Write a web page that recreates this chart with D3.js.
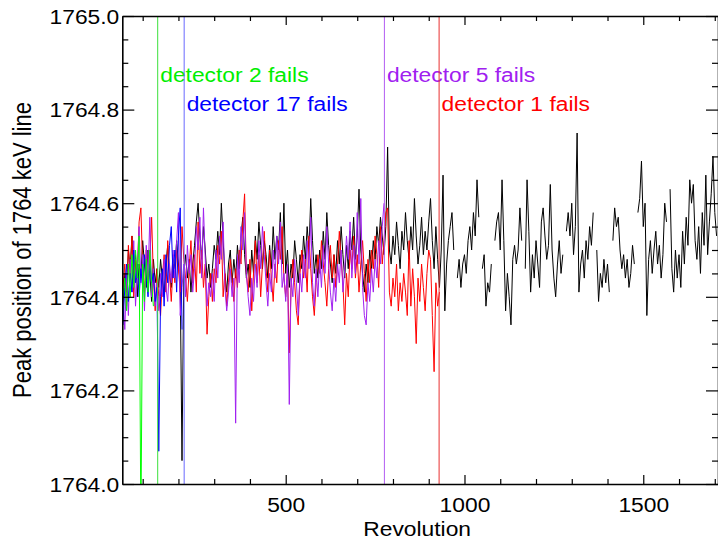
<!DOCTYPE html>
<html>
<head>
<meta charset="utf-8">
<script src="https://cdn.jsdelivr.net/npm/d3@7"></script>
<style>
  body { margin: 0; background: #fff; }
  svg { display: block; font-family: "Liberation Sans", Arial, Helvetica, sans-serif; }
</style>
</head>
<body>
<script>
// every series is sampled each 5 revolutions, starting at revolution 45
var revStart = 45;
var revStep = 5;

var blackVals = [
  1764.38, 1764.45, 1764.41, 1764.50, 1764.46, 1764.53, 1764.43, 1764.49, 1764.40, 1764.47,
  1764.44, 1764.52, 1764.47, 1764.42, 1764.50, 1764.45, 1764.39, 1764.48, 1764.43, 1764.46,
  1764.42, 1764.48, 1764.44, 1764.40, 1764.47, 1764.51, 1764.45, 1764.42, 1764.49, 1764.46,
  1764.52, 1764.47, 1764.43, 1764.05, 1764.45, 1764.49, 1764.44, 1764.48, 1764.41, 1764.47,
  1764.51, 1764.56, 1764.60, 1764.53, 1764.48, 1764.55, 1764.50, 1764.44, 1764.47, 1764.42,
  1764.46, 1764.51, 1764.48, 1764.54, 1764.49, 1764.60, 1764.52, 1764.45, 1764.41, 1764.47,
  1764.50, 1764.43, 1764.48, 1764.44, 1764.51, 1764.46, 1764.53, 1764.57, 1764.49, 1764.44,
  1764.47, 1764.42, 1764.50, 1764.45, 1764.53, 1764.48, 1764.56, 1764.51, 1764.46, 1764.52,
  1764.49, 1764.44, 1764.51, 1764.46, 1764.55, 1764.48, 1764.53, 1764.50, 1764.58, 1764.47,
  1764.60, 1764.45, 1764.50, 1764.42, 1764.47, 1764.44, 1764.52, 1764.48, 1764.43, 1764.49,
  1764.46, 1764.53, 1764.48, 1764.55, 1764.50, 1764.61, 1764.52, 1764.45, 1764.49, 1764.44,
  1764.50, 1764.46, 1764.54, 1764.48, 1764.58, 1764.51, 1764.47, 1764.43, 1764.49, 1764.45,
  1764.52, 1764.47, 1764.55, 1764.49, 1764.44, 1764.51, 1764.46, 1764.54, 1764.50, 1764.57,
  1764.48, 1764.53, 1764.63, 1764.50, 1764.45, 1764.41, 1764.47, 1764.43, 1764.50, 1764.46,
  1764.52, 1764.48, 1764.55, 1764.51, 1764.57, 1764.53, 1764.49, 1764.55, 1764.72, 1764.50,
  1764.47, 1764.53, 1764.49, 1764.56, 1764.51, 1764.46, 1764.54, 1764.50, 1764.58, 1764.52,
  1764.48, 1764.55, 1764.50, 1764.61, 1764.53, 1764.47, 1764.51, 1764.57, 1764.49, 1764.54,
  1764.50, 1764.56, 1764.61, 1764.52, 1764.46, 1764.55, 1764.48, 1764.42, 1764.50, 1764.66,
  1764.37, 1764.47, 1764.52, 1764.55, 1764.58, 1764.50, null,    1764.44, 1764.48, 1764.42,
  1764.47, 1764.49, 1764.45, 1764.52, 1764.55, 1764.50, 1764.58, 1764.53, 1764.65, 1764.57,
  null,    1764.46, 1764.49, 1764.38, 1764.43, 1764.41, 1764.47, null,    1764.52, 1764.56,
  1764.58, 1764.50, 1764.65, 1764.52, 1764.37, 1764.45, 1764.40, 1764.34, 1764.48, 1764.51,
  1764.47, 1764.50, 1764.59, 1764.52, null,    1764.46, 1764.65, 1764.54, 1764.41, 1764.49,
  1764.44, 1764.52, 1764.47, 1764.42, 1764.56, 1764.59, 1764.53, 1764.48, 1764.51, 1764.64,
  1764.50, 1764.44, 1764.40, 1764.47, 1764.52, 1764.45, 1764.49, null,    1764.54, 1764.58,
  1764.53, 1764.60, 1764.49, 1764.55, 1764.75, 1764.41, 1764.47, 1764.50, 1764.44, 1764.52,
  1764.48, 1764.55, 1764.51, 1764.58, null,    1764.50, 1764.39, 1764.45, 1764.42, 1764.48,
  1764.43, 1764.47, 1764.41, null,    1764.52, 1764.59, 1764.55, 1764.57, 1764.50, 1764.46,
  1764.49, 1764.44, 1764.48, 1764.42, 1764.45, 1764.51, 1764.47, null,    1764.58, 1764.61,
  1764.69, 1764.55, 1764.60, 1764.36, 1764.48, 1764.52, 1764.45, 1764.50, 1764.54, 1764.47,
  1764.51, 1764.44, 1764.49, 1764.60, 1764.56, null,    1764.63, 1764.46, 1764.41, 1764.50,
  1764.44, 1764.49, 1764.42, 1764.54, 1764.47, 1764.57, 1764.51, 1764.65, 1764.60, 1764.64,
  1764.52, 1764.48, 1764.55, 1764.45, 1764.58, 1764.51, 1764.66, 1764.49, 1764.56, 1764.62,
  1764.70, 1764.58, 1764.53
];

var redVals = [
  1764.42, 1764.47, 1764.38, 1764.51, 1764.44, 1764.53, 1764.40, 1764.48, 1764.45, 1764.56,
  1764.59, 1764.46, 1764.41, 1764.50, 1764.43, 1764.48, 1764.57, 1764.44, 1764.37, 1764.46,
  1764.40, 1764.36, 1764.44, 1764.49, 1764.41, 1764.52, 1764.45, 1764.39, 1764.47, 1764.43,
  1764.50, 1764.46, 1764.41, 1764.55, 1764.48, 1764.44, 1764.39, 1764.46, 1764.52, 1764.43,
  1764.49, 1764.41, 1764.56, 1764.45, 1764.50, 1764.42, 1764.47, 1764.32, 1764.40, 1764.45,
  1764.39, 1764.46, 1764.43, 1764.51, 1764.47, 1764.54, 1764.40, 1764.45, 1764.38, 1764.43,
  1764.48, 1764.44, 1764.39, 1764.46, 1764.42, 1764.50, 1764.47, 1764.56, 1764.62, 1764.45,
  1764.41, 1764.48, 1764.37, 1764.45, 1764.52, 1764.43, 1764.49, 1764.40, 1764.47, 1764.54,
  1764.46, 1764.41, 1764.50, 1764.44, 1764.39, 1764.47, 1764.43, 1764.52, 1764.48, 1764.55,
  1764.44, 1764.40, 1764.46, 1764.28, 1764.42, 1764.48, 1764.43, 1764.37, 1764.34, 1764.45,
  1764.50, 1764.44, 1764.48, 1764.41, 1764.53, 1764.46, 1764.40, 1764.36, 1764.43, 1764.49,
  1764.45, 1764.52, 1764.47, 1764.43, 1764.38, 1764.46, 1764.51, 1764.44, 1764.49, 1764.42,
  1764.47, 1764.54, 1764.48, 1764.43, 1764.34, 1764.45, 1764.40, 1764.50, 1764.46, 1764.53,
  1764.44, 1764.49, 1764.41, 1764.47, 1764.52, 1764.45, 1764.39, 1764.48, 1764.43, 1764.50,
  1764.46, 1764.53, 1764.49, 1764.42, 1764.55, 1764.47, 1764.52, 1764.58, 1764.59, 1764.41,
  1764.38, 1764.44, 1764.40, 1764.47, 1764.37, 1764.43, 1764.39, 1764.45, 1764.41, 1764.36,
  1764.52, 1764.38, 1764.46, 1764.40, 1764.30, 1764.44, 1764.39, 1764.47, 1764.42, 1764.37,
  1764.45, 1764.50, 1764.48, 1764.36, 1764.24, 1764.43, 1764.38, 1764.41
];

var purpleVals = [
  1764.40, 1764.33, 1764.45, 1764.36, 1764.48, 1764.41, 1764.52, 1764.38, 1764.46, 1764.55,
  1764.43, 1764.49, 1764.37, 1764.51, 1764.44, 1764.57, 1764.40, 1764.46, 1764.38, 1764.43,
  1764.37, 1764.45, 1764.40, 1764.48, 1764.42, 1764.39, 1764.47, 1764.43, 1764.50, 1764.44,
  1764.52, 1764.58, 1764.36, 1764.42, 1764.47, 1764.40, 1764.51, 1764.45, 1764.49, 1764.41,
  1764.46, 1764.55, 1764.50, 1764.57, 1764.44, 1764.59, 1764.48, 1764.38, 1764.43, 1764.40,
  1764.45, 1764.39, 1764.50, 1764.44, 1764.53, 1764.48, 1764.56, 1764.42, 1764.37, 1764.41,
  1764.46, 1764.40, 1764.44, 1764.13, 1764.49, 1764.43, 1764.55, 1764.50, 1764.58, 1764.45,
  1764.40, 1764.36, 1764.44, 1764.39, 1764.47, 1764.42, 1764.52, 1764.46, 1764.55, 1764.49,
  1764.43, 1764.38, 1764.45, 1764.41, 1764.50, 1764.44, 1764.53, 1764.47, 1764.56, 1764.42,
  1764.45, 1764.39, 1764.47, 1764.17, 1764.44, 1764.40, 1764.48, 1764.43, 1764.36, 1764.45,
  1764.41, 1764.49, 1764.44, 1764.52, 1764.46, 1764.57, 1764.43, 1764.38, 1764.46, 1764.40,
  1764.48, 1764.42, 1764.51, 1764.45, 1764.55, 1764.47, 1764.41, 1764.37, 1764.44, 1764.39,
  1764.47, 1764.43, 1764.50, 1764.41, 1764.46, 1764.53, 1764.48, 1764.56, 1764.44, 1764.51,
  1764.45, 1764.58, 1764.47, 1764.61, 1764.42, 1764.36, 1764.34, 1764.43, 1764.39, 1764.46,
  1764.41, 1764.48, 1764.44, 1764.52, 1764.47, 1764.55, 1764.60
];

var blueVals = [
  1764.34, 1764.42, 1764.47, 1764.39, 1764.45, 1764.41, 1764.50, 1764.43, 1764.47, 1764.40,
  1764.46, 1764.42, 1764.49, 1764.44, 1764.40, 1764.47, 1764.43, 1764.45, 1764.39, 1764.42,
  1764.07, 1764.40, 1764.46, 1764.38, 1764.49, 1764.43, 1764.51, 1764.55, 1764.44, 1764.50,
  1764.41, 1764.53, 1764.59, 1764.33
];

var greenVals = [
  1764.40, 1764.44, 1764.37, 1764.47, 1764.40, 1764.49, 1764.42, 1764.50, 1764.44, 1764.53,
  1763.90, 1764.47, 1764.39, 1764.48, 1764.41, 1764.50, 1764.43, 1764.38
];

var failDetectors = [2, 17, 5, 1];
var failRevs = [142, 216, 776, 929];

var xMajorTicks = [500, 1000, 1500];
var xMinorTicks = [100, 200, 300, 400, 600, 700, 800, 900, 1100, 1200, 1300, 1400, 1600, 1700];
var yMajorTicks = [1764.0, 1764.2, 1764.4, 1764.6, 1764.8, 1765.0];
var yMinorTicks = [1764.05, 1764.1, 1764.15, 1764.25, 1764.3, 1764.35, 1764.45, 1764.5, 1764.55,
                   1764.65, 1764.7, 1764.75, 1764.85, 1764.9, 1764.95];

var W = 718, H = 540;
// plot box (note: "top" is reserved on window, so use prefixed names)
var pLeft = 122.3, pRight = 718, pTop = 16, pBottom = 484;
var sx = 1.17; // text is a bit wider than plain Helvetica in the original

var svg = d3.select("body").append("svg")
  .attr("width", W)
  .attr("height", H);

var x = d3.scaleLinear().domain([43, 1709]).range([pLeft, pRight]);
var y = d3.scaleLinear().domain([1764.0, 1765.0]).range([pBottom, pTop]);

svg.append("clipPath")
  .attr("id", "plotclip")
  .append("rect")
    .attr("x", pLeft)
    .attr("y", pTop)
    .attr("width", pRight - pLeft)
    .attr("height", pBottom - pTop);

/* data lines */
var series = [
  { vals: blackVals,  color: "#000000" },
  { vals: redVals,    color: "#ff0000" },
  { vals: purpleVals, color: "#a020f0" },
  { vals: blueVals,   color: "#0000ff" },
  { vals: greenVals,  color: "#00ff00" }
];

var line = d3.line()
  .defined(function(d) { return d[1] != null; })
  .x(function(d) { return x(d[0]); })
  .y(function(d) { return y(d[1]); });

var plot = svg.append("g").attr("clip-path", "url(#plotclip)");

series.forEach(function(s) {
  var pts = s.vals.map(function(v, i) { return [revStart + i * revStep, v]; });
  plot.append("path")
    .datum(pts)
    .attr("d", line)
    .attr("fill", "none")
    .attr("stroke", s.color)
    .attr("stroke-width", 1)
    .attr("stroke-linejoin", "round");
});

/* detector failure markers */
var failLineColors = ["#3ce03c", "#6a6aff", "#b25cf2", "#e83030"];
var failTextColors = ["#00ee00", "#0000ff", "#a020f0", "#ff0000"];
var labelY = [y(1764.858), y(1764.797)];

failRevs.forEach(function(r, i) {
  svg.append("line")
    .attr("x1", x(r)).attr("x2", x(r))
    .attr("y1", pTop).attr("y2", pBottom)
    .attr("stroke", failLineColors[i])
    .attr("stroke-width", 1);

  svg.append("text")
    .attr("transform", "translate(" + (x(r) + 2.5) + "," + labelY[i % 2] + ") scale(" + sx + ",1)")
    .attr("fill", failTextColors[i])
    .style("font-size", "19.5px")
    .text("detector " + failDetectors[i] + " fails");
});

/* axes */
function styleAxis(g) {
  g.select(".domain").attr("stroke", "#000").attr("stroke-width", 1.6);
  g.selectAll(".tick line").attr("stroke", "#000").attr("stroke-width", 1.2);
}

var gb = svg.append("g").attr("transform", "translate(0," + pBottom + ")")
  .call(d3.axisBottom(x).tickValues(xMajorTicks).tickSizeInner(-9).tickSizeOuter(0)
    .tickFormat(d3.format("d")));
gb.append("g")
  .call(d3.axisBottom(x).tickValues(xMinorTicks).tickSizeInner(-5).tickSizeOuter(0).tickFormat(""))
  .select(".domain").remove();
gb.selectAll(".tick text")
  .attr("y", 0).attr("dy", 0)
  .attr("transform", "translate(0,27.7) scale(" + sx + ",1)")
  .attr("fill", "#000")
  .style("font-size", "19.5px");
styleAxis(gb);

var gt = svg.append("g").attr("transform", "translate(0," + pTop + ")")
  .call(d3.axisTop(x).tickValues(xMajorTicks).tickSizeInner(-9).tickSizeOuter(0).tickFormat(""));
gt.append("g")
  .call(d3.axisTop(x).tickValues(xMinorTicks).tickSizeInner(-5).tickSizeOuter(0).tickFormat(""))
  .select(".domain").remove();
styleAxis(gt);

var gl = svg.append("g").attr("transform", "translate(" + pLeft + ",0)")
  .call(d3.axisLeft(y).tickValues(yMajorTicks).tickSizeInner(-12).tickSizeOuter(0)
    .tickFormat(d3.format(".1f")));
gl.append("g")
  .call(d3.axisLeft(y).tickValues(yMinorTicks).tickSizeInner(-6).tickSizeOuter(0).tickFormat(""))
  .select(".domain").remove();
gl.selectAll(".tick text")
  .attr("x", 0).attr("dy", 0)
  .attr("text-anchor", "end")
  .attr("transform", "translate(-3,7.3) scale(" + sx + ",1)")
  .attr("fill", "#000")
  .style("font-size", "19.5px");
styleAxis(gl);

var gr = svg.append("g").attr("transform", "translate(" + pRight + ",0)")
  .call(d3.axisRight(y).tickValues(yMajorTicks).tickSizeInner(-12).tickSizeOuter(0).tickFormat(""));
gr.append("g")
  .call(d3.axisRight(y).tickValues(yMinorTicks).tickSizeInner(-6).tickSizeOuter(0).tickFormat(""))
  .select(".domain").remove();
styleAxis(gr);

/* titles */
svg.append("text")
  .attr("transform", "translate(" + ((pLeft + pRight) / 2 - 3) + ",536) scale(" + sx + ",1)")
  .attr("text-anchor", "middle")
  .style("font-size", "19.5px")
  .text("Revolution");

svg.append("text")
  .attr("transform", "translate(31," + ((pTop + pBottom) / 2) + ") scale(" + sx + ",1) rotate(-90)")
  .attr("text-anchor", "middle")
  .style("font-size", "22px")
  .text("Peak position of 1764 keV line");
</script>
</body>
</html>
